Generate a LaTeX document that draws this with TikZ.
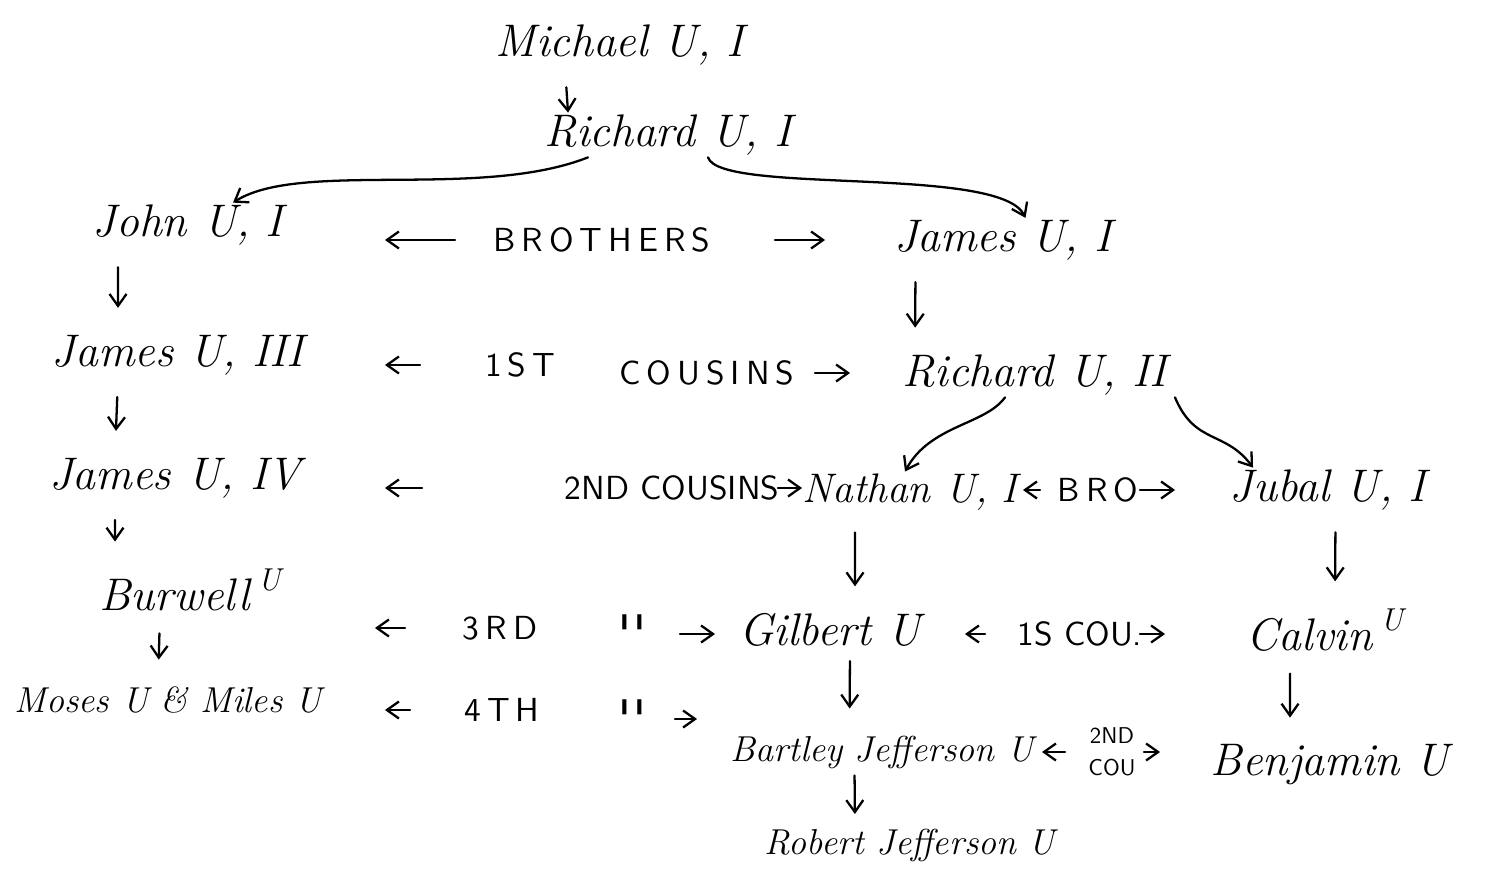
\documentclass[tikz,border=0pt]{standalone}
\usepackage{fontspec}
\usetikzlibrary{arrows.meta}

\newfontfamily\kinfont{lmsans10-regular.otf}
\newfontfamily\kinspaced{lmsans10-regular.otf}[LetterSpace=18]
\newcommand{\upU}{\raisebox{0.45em}{\fontsize{18}{20}\selectfont U}}

\begin{document}
\begin{tikzpicture}[
  x=0.02cm, y=-0.02cm,
  person/.style={font=\fontsize{26}{28}\selectfont\itshape, inner sep=1pt},
  midperson/.style={person, font=\fontsize{23.5}{26}\selectfont\itshape},
  longperson/.style={person, font=\fontsize{20.5}{24}\selectfont\itshape},
  kin/.style={font=\fontsize{19}{22}\selectfont\kinfont, inner sep=1pt},
  spaced/.style={kin, font=\fontsize{19}{22}\selectfont\kinspaced},
  ditto/.style={kin, font=\fontsize{30}{30}\selectfont\kinfont},
  smallkin/.style={kin, font=\fontsize{13}{15}\selectfont\kinfont, align=center},
  arr/.style={-{Straight Barb[length=2.4mm, width=3.4mm]}, line width=1.3pt, line cap=round},
  down/.style={arr, shorten <=0.4cm, shorten >=0.5cm}
]
  \useasboundingbox (0,0) rectangle (1506,868);

  % people
  \node[person] (mich) at (620,45) {Michael U, I};
  \node[person] (rich1) at (668,135) {Richard U, I};
  \node[person] (john) at (188,225) {John U, I};
  \node[person] (jam1) at (1003,240) {James U, I};
  \node[person] (jam3) at (178,355) {James U, III};
  \node[person] (rich2) at (1035,375) {Richard U, II};
  \node[person] (jam4) at (175,478) {James U, IV};
  \node[midperson] (nath) at (910,492) {Nathan U, I};
  \node[person] (jub) at (1328,490) {Jubal U, I};
  \node[person] (burw) at (190,590) {Burwell\,\upU};
  \node[person] (gilb) at (830,630) {Gilbert U};
  \node[person] (calv) at (1325,630) {Calvin\,\upU};
  \node[longperson] (moses) at (168,700) {Moses U \& Miles U};
  \node[longperson] (bart) at (882,752) {Bartley Jefferson U};
  \node[person] (benj) at (1330,765) {Benjamin U};
  \node[longperson] (rob) at (910,845) {Robert Jefferson U};

  % kinship labels
  \node[spaced] (bro) at (602,240) {BROTHERS};
  \node[spaced] (cous1a) at (520,365) {1ST};
  \node[spaced] (cous1b) at (707,373) {COUSINS};
  \node[kin] (cous2) at (672,488) {2ND COUSINS};
  \node[spaced] (bro2) at (1098,490) {BRO};
  \node[spaced] (cous3) at (500,628) {3RD};
  \node[ditto] (dit3) at (632,634) {''};
  \node[kin] (cous1s) at (1080,634) {1S COU.};
  \node[spaced] (cous4) at (502,710) {4TH};
  \node[ditto] (dit4) at (632,719) {''};
  \node[smallkin] (cous2b) at (1112,752) {2ND\\[3pt]COU};

  % descent
  \draw[down, shorten >=0cm] (mich.south -| 565,0) -- ([xshift=-2.0cm]rich1.north);
  \draw[arr] ([xshift=-1.6cm]rich1.south) .. controls (480,200) and (300,160) .. ([xshift=0.9cm]john.north);
  \draw[arr] ([xshift=0.8cm]rich1.south) .. controls (720,195) and (1000,165) .. ([xshift=0.45cm]jam1.north);
  \draw[down] ([xshift=-1.4cm]john.south) -- ([xshift=-1.2cm]jam3.north);
  \draw[down] ([xshift=-1.2cm]jam3.south) -- ([xshift=-1.2cm]jam4.north);
  \draw[down] ([xshift=-1.2cm]jam4.south) -- ([xshift=-1.5cm]burw.north);
  \draw[down] ([xshift=-0.6cm]burw.south) -- ([xshift=-0.2cm]moses.north);
  \draw[down] ([xshift=-1.75cm]jam1.south) -- ([xshift=-2.4cm]rich2.north);
  \draw[arr] ([xshift=-0.6cm]rich2.south) .. controls (985,425) and (930,425) .. ([xshift=-0.1cm]nath.north);
  \draw[arr] ([xshift=2.8cm]rich2.south) .. controls (1195,445) and (1225,430) .. ([xshift=-1.5cm]jub.north);
  \draw[down] ([xshift=-1.1cm]nath.south) -- ([xshift=0.5cm]gilb.north);
  \draw[down] ([xshift=0.15cm]jub.south) -- ([xshift=0.2cm]calv.north);
  \draw[down, shorten <=0.25cm] ([xshift=0.4cm]gilb.south) -- ([xshift=-0.65cm]bart.north);
  \draw[down] ([xshift=-0.7cm]calv.south) -- ([xshift=-0.8cm]benj.north);
  \draw[down, shorten <=0.1cm, shorten >=0.25cm] ([xshift=-0.55cm]bart.south) -- ([xshift=-1.1cm]rob.north);

  % kinship
  \draw[arr, shorten <=2.94cm, shorten >=3.94cm] (bro.center) -- (bro.center -| john.center);
  \draw[arr, shorten <=3.46cm, shorten >=3.56cm] (bro.center) -- (bro.center -| jam1.center);
  \draw[arr, shorten <=2.0cm, shorten >=4.14cm] (cous1a.center) -- (cous1a.center -| jam3.center);
  \draw[arr, shorten <=2.16cm, shorten >=3.7cm] (cous1b.center) -- (cous1b.center -| rich2.center);
  \draw[arr, shorten <=5.0cm, shorten >=4.2cm] (cous2.center) -- (cous2.center -| jam4.center);
  \draw[arr, shorten <=2.12cm, shorten >=2.16cm] (cous2.center) -- (cous2.center -| nath.center);
  \draw[arr, shorten <=1.16cm, shorten >=2.26cm] (bro2.center) -- (bro2.center -| nath.center);
  \draw[arr, shorten <=0.84cm, shorten >=3.06cm] (bro2.center) -- (bro2.center -| jub.center);
  \draw[arr, shorten <=1.9cm, shorten >=3.7cm] (cous3.center) -- (cous3.center -| burw.center);
  \draw[arr, shorten <=0.96cm, shorten >=2.3cm] (dit3.center) -- (dit3.center -| gilb.center);
  \draw[arr, shorten <=1.9cm, shorten >=2.7cm] (cous1s.center) -- (cous1s.center -| gilb.center);
  \draw[arr, shorten <=1.2cm, shorten >=3.2cm] (cous1s.center) -- (cous1s.center -| calv.center);
  \draw[arr, shorten <=1.84cm, shorten >=4.34cm] (cous4.center) -- (cous4.center -| moses.center);
  \draw[arr, shorten <=0.86cm, shorten >=3.7cm] (dit4.center) -- (dit4.center -| bart.center);
  \draw[arr, shorten <=0.94cm, shorten >=3.2cm] (cous2b.center) -- (cous2b.center -| bart.center);
  \draw[arr, shorten <=0.64cm, shorten >=3.4cm] (cous2b.center) -- (cous2b.center -| benj.center);
\end{tikzpicture}
\end{document}
